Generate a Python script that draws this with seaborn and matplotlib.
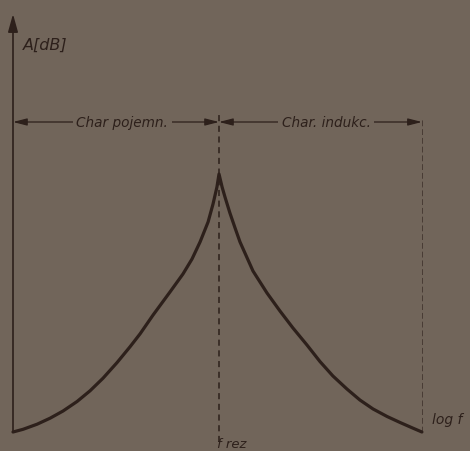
import matplotlib
matplotlib.use("Agg")
import matplotlib.pyplot as plt
import seaborn as sns
import pandas as pd

# ---- data (arbitrary units: x = log f, y = A [dB]) ----
x_left = [0.000, 0.049, 0.117, 0.180, 0.243, 0.311, 0.374, 0.437, 0.505, 0.568,
          0.617, 0.680, 0.762, 0.825, 0.869, 0.908, 0.947, 0.971, 0.990, 1.000]
y_left = [0.0, 0.27, 0.78, 1.38, 2.10, 3.05, 4.12, 5.38, 6.94, 8.52,
          9.82, 11.7, 14.0, 15.8, 17.3, 19.0, 21.0, 22.8, 24.5, 25.8]
x_right = [1.000, 1.015, 1.029, 1.053, 1.078, 1.102, 1.165, 1.233, 1.296, 1.359,
           1.427, 1.490, 1.553, 1.621, 1.684, 1.748, 1.816, 1.879, 1.942, 1.985]
y_right = [25.8, 24.5, 23.5, 21.9, 20.4, 19.0, 16.1, 13.9, 12.1, 10.4,
           8.7, 7.05, 5.6, 4.3, 3.2, 2.3, 1.55, 0.95, 0.38, 0.0]
f_rez = 1.0
f_end = 1.985
dim_level = 31.0
labels = {"y": "A[dB]", "x": "log f", "rez": "f rez",
          "left": "Char pojemn.", "right": "Char. indukc."}

BG = "#71655a"
INK = "#2d201b"

sns.set_theme(style="white")
plt.rcParams["font.family"] = ["DejaVu Sans"]

fig = plt.figure(figsize=(4.70, 4.52), dpi=100, facecolor=BG)
ax = fig.add_axes([0, 0, 1, 1])
ax.set_facecolor(BG)
for s in ax.spines.values():
    s.set_visible(False)
ax.set_xticks([])
ax.set_yticks([])
ax.set_xlim(-13 / 206, 457 / 206)
ax.set_ylim(-1.9, 43.3)

df = pd.DataFrame({"x": x_left + x_right[1:], "y": y_left + y_right[1:]})
sns.lineplot(data=df, x="x", y="y", ax=ax, color=INK, lw=2.3, sort=False,
             estimator=None, solid_joinstyle="round", solid_capstyle="round")
ax.set_xlabel("")
ax.set_ylabel("")

# axes with arrows
ax.annotate("", xy=(0, 41.8), xytext=(0, 0),
            arrowprops=dict(arrowstyle="-|>,head_length=0.9,head_width=0.25",
                            color=INK, lw=1.2, shrinkA=0, shrinkB=0))
ax.annotate("", xy=(2.235, 0), xytext=(0, 0),
            arrowprops=dict(arrowstyle="-|>,head_length=0.9,head_width=0.25",
                            color=INK, lw=1.2, shrinkA=0, shrinkB=0))

# dashed verticals
ax.plot([f_rez, f_rez], [-1.0, 31.8], color=INK, lw=1.1, ls=(0, (4, 3)))
ax.plot([f_end, f_end], [0, 31.5], color=INK, lw=0.7, ls=(0, (6, 3)), alpha=0.6)

# dimension lines
ap = dict(arrowstyle="<|-|>,head_length=0.7,head_width=0.18", color=INK,
          lw=0.9, shrinkA=0, shrinkB=0)
ax.annotate("", xy=(0, dim_level), xytext=(f_rez, dim_level), arrowprops=ap)
ax.annotate("", xy=(f_rez, dim_level), xytext=(f_end, dim_level), arrowprops=ap)
tb = dict(facecolor=BG, edgecolor="none", pad=2.5)
ax.text(0.53, dim_level, labels["left"], ha="center", va="center",
        fontsize=9.8, style="italic", color=INK, bbox=tb)
ax.text(1.52, dim_level, labels["right"], ha="center", va="center",
        fontsize=9.8, style="italic", color=INK, bbox=tb)

# labels
ax.text(0.048, 38.8, labels["y"], ha="left", va="center", fontsize=11.5,
        style="italic", color=INK)
ax.text(2.035, 1.3, labels["x"], ha="left", va="center", fontsize=10,
        style="italic", color=INK)
ax.text(0.992, -0.5, labels["rez"], ha="left", va="top", fontsize=9.5,
        style="italic", color=INK)

fig.savefig("out.png", dpi=100, facecolor=BG)
